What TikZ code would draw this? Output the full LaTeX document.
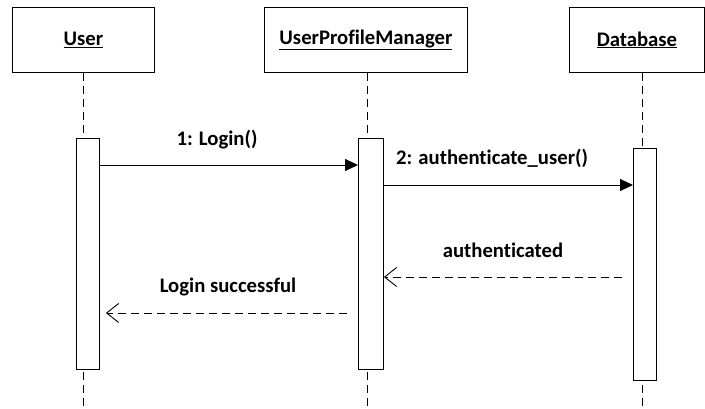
\documentclass[tikz,border=0pt]{standalone}
\usepackage{fontspec}
\setmainfont{Carlito}[Ligatures=NoCommon]
\usetikzlibrary{arrows.meta,calc}

\tikzset{
  head/.style={draw, line width=0.9pt, fill=white, inner sep=0pt, anchor=north west},
  headtext/.style={font=\bfseries\fontsize{20.7}{24}\selectfont},
  lifeline/.style={draw, line width=0.9pt, dash pattern=on 8pt off 5pt},
  activation/.style={draw, line width=0.9pt, fill=white, inner sep=0pt, anchor=north west},
  call/.style={draw, line width=0.9pt, -{Triangle[length=13pt,width=12pt]}},
  reply/.style={draw, line width=0.9pt, dash pattern=on 8pt off 5pt, -{Straight Barb[length=12pt,width=19pt,line width=0.9pt]}},
  msglabel/.style={font=\bfseries\fontsize{20.7}{24}\selectfont, inner sep=0pt},
}
\newcommand{\headname}[1]{\underline{#1}}

\begin{document}
\begin{tikzpicture}[x=1pt,y=-1pt]
  \useasboundingbox (0,0) rectangle (705,408);

  % object heads
  \node[head, minimum width=142pt, minimum height=65pt] (user) at (12,7) {};
  \node[headtext] at (user.center) {\headname{User}};
  \node[head, minimum width=203pt, minimum height=65pt] (upm) at (264,7) {};
  \node[headtext] at (upm.center) {\headname{UserProfileManager}};
  \node[head, minimum width=135pt, minimum height=65pt] (db) at (569,7) {};
  \node[headtext] at (db.center) {\headname{Database}};

  % lifeline end points
  \coordinate (userend) at (83,408);
  \coordinate (upmend) at (367,408);
  \coordinate (dbend) at (642,408);

  % lifelines
  \draw[lifeline] (userend |- user.south) -- (userend);
  \draw[lifeline] (upmend |- upm.south) -- (upmend);
  \draw[lifeline] (dbend |- db.south) -- (dbend);

  % activation bars
  \node[activation, minimum width=23pt, minimum height=231pt] (uact) at (76,138) {};
  \node[activation, minimum width=25pt, minimum height=231pt] (pact) at (358,138) {};
  \node[activation, minimum width=23pt, minimum height=232pt] (dact) at (633,148) {};

  % messages
  \draw[call] (uact.east |- 0,165) -- (pact.west |- 0,165);
  \node[msglabel] at (217,140) {1: Login()};

  \draw[call] (pact.east |- 0,185) -- (dact.west |- 0,185);
  \node[msglabel] at (492,158) {2: authenticate\_user()};

  \draw[reply] ($(dact.west |- 0,277)+(-11,0)$) -- (pact.east |- 0,277);
  \node[msglabel] at (503,250) {authenticated};

  \draw[reply] ($(pact.west |- 0,313)+(-11,0)$) -- ($(uact.east |- 0,313)+(6,0)$);
  \node[msglabel] at (228,287) {Login successful};
\end{tikzpicture}
\end{document}
